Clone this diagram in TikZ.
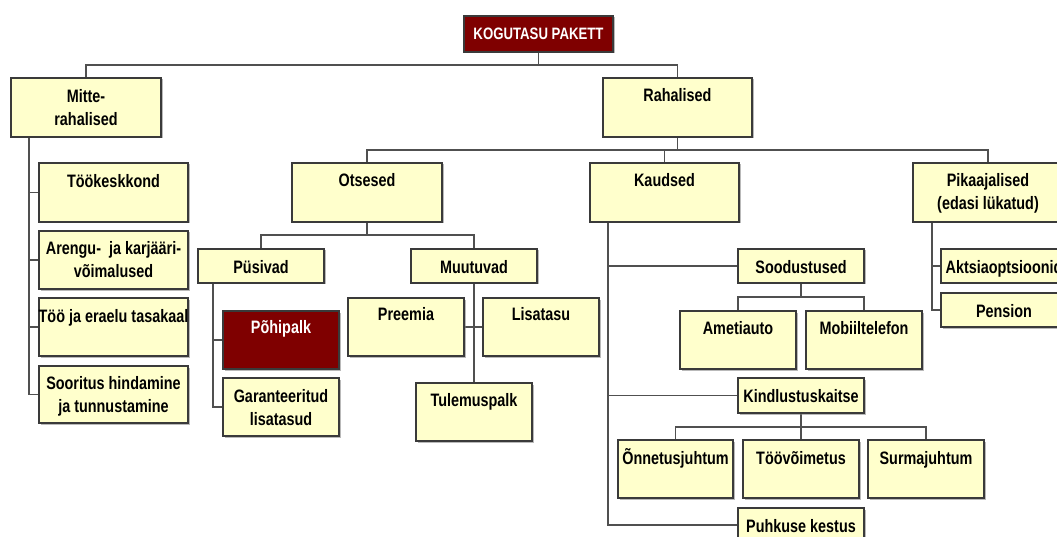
\documentclass[tikz,border=0pt]{standalone}
\usepackage{fontspec}
\setmainfont[FakeStretch=0.8]{Liberation Sans}
\usetikzlibrary{shadows,backgrounds}
\definecolor{cream}{HTML}{FFFFCC}
\definecolor{dred}{HTML}{7F0000}
\definecolor{edgec}{HTML}{3A3A3A}
\definecolor{connc}{HTML}{505050}
\tikzset{
  box/.style={draw=edgec, line width=1.2pt, fill=cream, inner sep=0pt, outer sep=0pt,
    drop shadow={shadow xshift=1.5pt, shadow yshift=-1.5pt, fill=black!50, opacity=0.55}},
  redbox/.style={box, fill=dred},
  lbl/.style={anchor=base, inner sep=0pt, font=\fontsize{18}{22}\selectfont\bfseries, text=black},
  wlbl/.style={lbl, text=white},
  conn/.style={draw=connc, line width=1.3pt},
}
% #1 style, #2 name, #3 x1, #4 y1, #5 x2, #6 y2
\newcommand\bx[6][box]{%
  \node[#1, minimum width={(#5-#3)*1pt}, minimum height={(#6-#4)*1pt}]
    (#2) at ({(#3+#5)/2},{(#4+#6)/2}) {};}
% #1 style, #2 box name, #3 line number, #4 offset, #5 text
\newcommand\tx[5][lbl]{\node[#1] (#2-l#3) at ([yshift=-#4pt]#2.north) {#5};}
\begin{document}
\begin{tikzpicture}[x=1pt,y=-1pt]
\useasboundingbox (0,0) rectangle (1057,537);
\clip (0,0) rectangle (1057,537);

\bx[redbox]{K}{464}{16}{613}{52}
\tx[wlbl,font=\fontsize{16.5}{20}\selectfont\bfseries]{K}{1}{24}{KOGUTASU PAKETT}

\bx{M}{11}{78}{161}{137}
\tx{M}{1}{25}{Mitte-}
\tx{M}{2}{48}{rahalised}
\bx{R}{603}{78}{752}{137}
\tx{R}{1}{24}{Rahalised}

\bx{T1}{39}{163}{188}{222}
\tx{T1}{1}{25}{Töökeskkond}
\bx{T2}{39}{231}{188}{289}
\tx{T2}{1}{24}{Arengu-\ \ ja karjääri-}
\tx{T2}{2}{46}{võimalused}
\bx{T3}{39}{298}{188}{356}
\tx{T3}{1}{24}{Töö ja eraelu tasakaal}
\bx{T4}{39}{366}{188}{423}
\tx{T4}{1}{23}{Sooritus hindamine}
\tx{T4}{2}{46}{ja tunnustamine}

\bx{O}{292}{163}{442}{222}
\tx{O}{1}{24}{Otsesed}
\bx{Ka}{590}{163}{739}{222}
\tx{Ka}{1}{24}{Kaudsed}
\bx{Pk}{913}{163}{1063}{222}
\tx{Pk}{1}{24}{Pikaajalised}
\tx{Pk}{2}{47}{(edasi lükatud)}

\bx{Pu}{198}{249}{324}{283}
\tx{Pu}{1}{24}{Püsivad}
\bx{Mu}{411}{249}{537}{283}
\tx{Mu}{1}{24}{Muutuvad}

\bx[redbox]{Ph}{223}{311}{339}{369}
\tx[wlbl]{Ph}{1}{22}{Põhipalk}
\bx{Ga}{223}{378}{339}{436}
\tx{Ga}{1}{24}{Garanteeritud}
\tx{Ga}{2}{47}{lisatasud}

\bx{Pr}{348}{298}{464}{356}
\tx{Pr}{1}{22}{Preemia}
\bx{Li}{483}{298}{599}{356}
\tx{Li}{1}{22}{Lisatasu}
\bx{Tu}{416}{383}{532}{441}
\tx{Tu}{1}{23}{Tulemuspalk}

\bx{So}{738}{249}{864}{283}
\tx{So}{1}{24}{Soodustused}
\bx{Am}{680}{311}{796}{369}
\tx{Am}{1}{23}{Ametiauto}
\bx{Mo}{806}{311}{922}{369}
\tx{Mo}{1}{23}{Mobiiltelefon}
\bx{Ki}{738}{378}{864}{413}
\tx{Ki}{1}{24}{Kindlustuskaitse}
\bx{On}{618}{440}{733}{498}
\tx{On}{1}{24}{Õnnetusjuhtum}
\bx{Tv}{743}{440}{859}{498}
\tx{Tv}{1}{24}{Töövõimetus}
\bx{Su}{868}{440}{984}{498}
\tx{Su}{1}{24}{Surmajuhtum}
\bx{Ph2}{738}{508}{864}{542}
\tx{Ph2}{1}{24}{Puhkuse kestus}

\bx{Ak}{941}{249}{1067}{283}
\tx{Ak}{1}{24}{Aktsiaoptsioonid}
\bx{Pe}{941}{293}{1067}{327}
\tx{Pe}{1}{24}{Pension}

\begin{scope}[on background layer]
\coordinate (b1) at (538.5,65);
\draw[conn] (K.south) -- (b1);
\draw[conn] (M.north) |- (b1) -| (R.north);
\coordinate (b2) at (677.5,150);
\draw[conn] (R.south) -- (b2);
\draw[conn] (O.north) |- (b2) -| (Pk.north);
\draw[conn] (Ka.north) -- (Ka.north |- b2);
\coordinate (m0) at (29,137);
\foreach \n in {T1,T2,T3,T4} \draw[conn] (m0) |- (\n.west);
\coordinate (b3) at (367,235);
\draw[conn] (O.south) -- (b3);
\draw[conn] (Pu.north) |- (b3) -| (Mu.north);
\coordinate (p0) at (213,283);
\draw[conn] (p0) |- (Ph.west);
\draw[conn] (p0) |- (Ga.west);
\draw[conn] (Mu.south) -- (Tu.north);
\draw[conn] (Pr.east) -- (Li.west);
\coordinate (k0) at (608,222);
\draw[conn] (k0) |- (So.west);
\draw[conn] (k0) |- (Ki.west);
\draw[conn] (k0) |- (Ph2.west);
\coordinate (s1) at (801,297);
\draw[conn] (So.south) -- (s1);
\draw[conn] (Am.north) |- (s1) -| (Mo.north);
\coordinate (k1) at (801,427);
\draw[conn] (Ki.south) -- (Tv.north);
\draw[conn] (On.north) |- (k1) -| (Su.north);
\coordinate (pk0) at (932,222);
\draw[conn] (pk0) |- (Ak.west);
\draw[conn] (pk0) |- (Pe.west);
\end{scope}
\end{tikzpicture}
\end{document}
